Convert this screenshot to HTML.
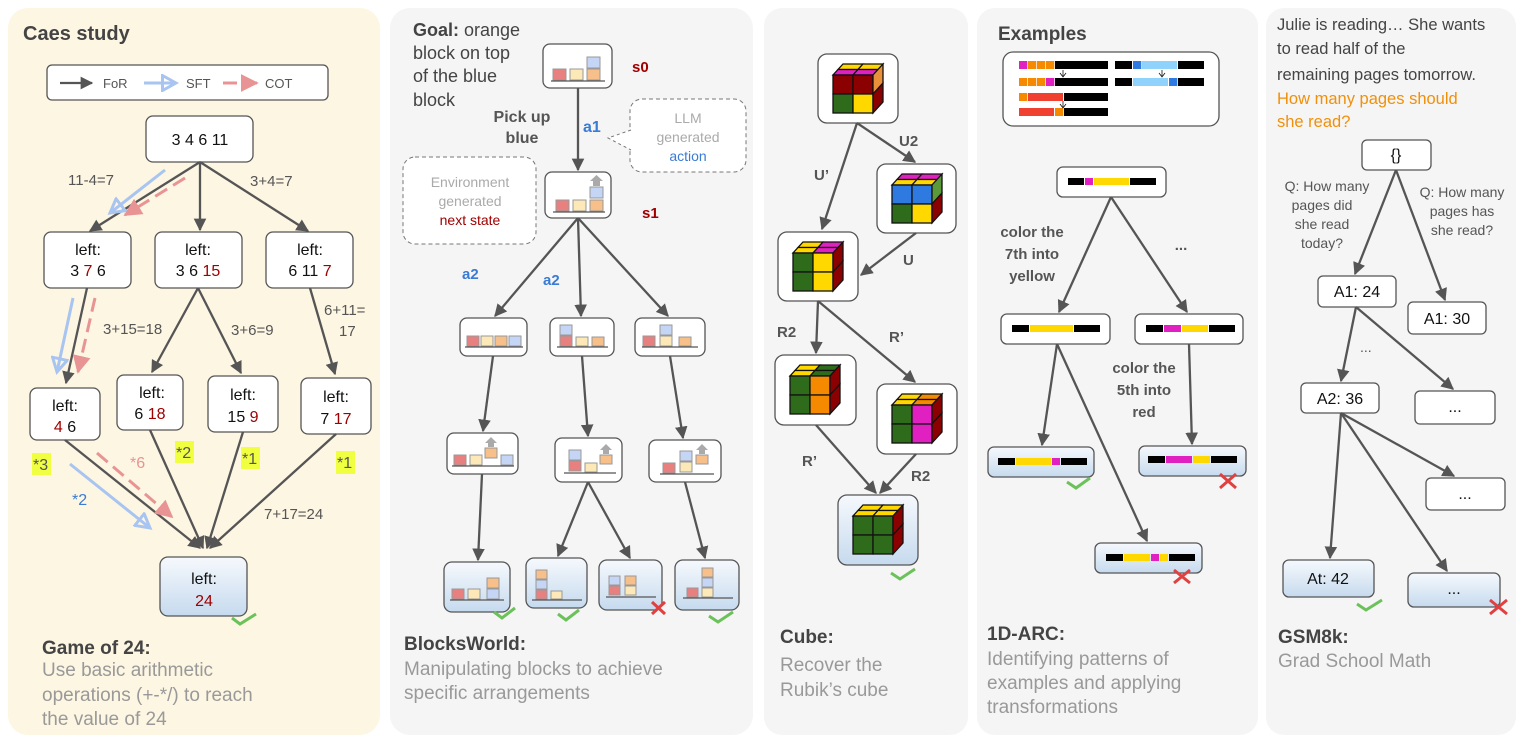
<!DOCTYPE html>
<html><head><meta charset="utf-8"><style>
html,body{margin:0;padding:0;background:#fff}
svg{display:block}
text{font-family:"Liberation Sans",sans-serif}
</style></head><body>
<svg width="1522" height="742" viewBox="0 0 1522 742" xmlns="http://www.w3.org/2000/svg">
<defs>
<marker id="ah" viewBox="0 0 10 10" refX="9" refY="5" markerWidth="5.5" markerHeight="5.5" orient="auto"><path d="M0,0 L10,5 L0,10 z" fill="#555"/></marker>
<marker id="ab" viewBox="0 0 12 12" refX="10" refY="6" markerWidth="6" markerHeight="6" orient="auto"><path d="M1,1 L10,6 L1,11 z" fill="none" stroke="#a8c4f0" stroke-width="2"/></marker>
<marker id="ar" viewBox="0 0 10 10" refX="9" refY="5" markerWidth="6" markerHeight="6" orient="auto"><path d="M0,0 L10,5 L0,10 z" fill="#e89494"/></marker>
<linearGradient id="gr" x1="0" y1="0" x2="0" y2="1"><stop offset="0" stop-color="#f6f9fd"/><stop offset="1" stop-color="#c6daee"/></linearGradient>
</defs>
<style>
.bx{fill:#fff;stroke:#555;stroke-width:1.3}
.gx{fill:url(#gr);stroke:#555;stroke-width:1.3}
.ln{stroke:#555;stroke-width:2.3;fill:none;marker-end:url(#ah)}
.bl{stroke:#a8c4f0;stroke-width:3;fill:none;marker-end:url(#ab)}
.rd{stroke:#e89494;stroke-width:3;fill:none;stroke-dasharray:14 7;marker-end:url(#ar)}
.t{font-size:15px;fill:#555}
.n{font-size:16px;fill:#111}
.red{fill:#a00000}
.r{fill:#e88080;stroke:#999;stroke-width:1}
.y{fill:#fde8b8;stroke:#999;stroke-width:1}
.o{fill:#f7c08a;stroke:#999;stroke-width:1}
.b{fill:#c5d5f5;stroke:#999;stroke-width:1}
.base{stroke:#555;stroke-width:1.3}
.ok{stroke:#6cc25a;stroke-width:3;fill:none}
.no{stroke:#e04040;stroke-width:3;fill:none}
.hd{font-size:19px;font-weight:bold;fill:#444}
.ds{font-size:19px;fill:#999}
.K{fill:#000}.M{fill:#e020c0}.Y{fill:#ffd800}.O{fill:#f58a00}.R{fill:#f04030}.B{fill:#2f7ae0}.L{fill:#8fd2fb}
.G{fill:#2e6b1a}.D{fill:#8b0000}
.cs rect,.cs polygon{stroke:#111;stroke-width:1.3}
</style>

<!-- panels -->
<rect x="8" y="8" width="372" height="727" rx="20" fill="#fdf6e3"/>
<rect x="390" y="8" width="363" height="727" rx="20" fill="#f5f5f5"/>
<rect x="764" y="8" width="204" height="727" rx="18" fill="#f5f5f5"/>
<rect x="977" y="8" width="281" height="727" rx="18" fill="#f5f5f5"/>
<rect x="1266" y="8" width="250" height="727" rx="18" fill="#f5f5f5"/>

<!-- ========== Panel 1 ========== -->
<text x="23" y="40" font-size="20" font-weight="bold" fill="#444">Caes study</text>
<rect x="47" y="65" width="281" height="35" rx="5" fill="#fff" stroke="#555" stroke-width="1.3"/>
<line x1="60" y1="83" x2="92" y2="83" class="ln"/>
<text x="103" y="88" font-size="13" fill="#555">FoR</text>
<line x1="144" y1="83" x2="176" y2="83" class="bl" stroke-width="2"/>
<text x="186" y="88" font-size="13" fill="#555">SFT</text>
<line x1="223" y1="83" x2="257" y2="83" class="rd" stroke-width="2" stroke-dasharray="8 6"/>
<text x="265" y="88" font-size="13" fill="#555">COT</text>

<rect x="146" y="116" width="107" height="46" rx="7" class="bx"/>
<text x="200" y="145" text-anchor="middle" class="n">3 4 6 11</text>

<line x1="200" y1="162" x2="90" y2="231" class="ln"/>
<line x1="200" y1="162" x2="200" y2="230" class="ln"/>
<line x1="200" y1="162" x2="308" y2="231" class="ln"/>
<line x1="165" y1="170" x2="110" y2="213" class="bl"/>
<line x1="185" y1="178" x2="125" y2="215" class="rd"/>
<text x="68" y="185" class="t">11-4=7</text>
<text x="250" y="186" class="t">3+4=7</text>

<rect x="44" y="232" width="87" height="56" rx="7" class="bx"/>
<text x="88" y="255" text-anchor="middle" class="n">left:</text>
<text x="88" y="276" text-anchor="middle" class="n">3 <tspan class="red">7</tspan> 6</text>
<rect x="155" y="232" width="87" height="56" rx="7" class="bx"/>
<text x="198" y="255" text-anchor="middle" class="n">left:</text>
<text x="198" y="276" text-anchor="middle" class="n">3 6 <tspan class="red">15</tspan></text>
<rect x="266" y="232" width="87" height="56" rx="7" class="bx"/>
<text x="310" y="255" text-anchor="middle" class="n">left:</text>
<text x="310" y="276" text-anchor="middle" class="n">6 11 <tspan class="red">7</tspan></text>

<line x1="87" y1="288" x2="66" y2="383" class="ln"/>
<line x1="73" y1="298" x2="57" y2="372" class="bl"/>
<line x1="95" y1="298" x2="78" y2="372" class="rd"/>
<line x1="198" y1="288" x2="152" y2="372" class="ln"/>
<line x1="198" y1="288" x2="241" y2="373" class="ln"/>
<line x1="310" y1="288" x2="335" y2="374" class="ln"/>
<text x="103" y="334" class="t">3+15=18</text>
<text x="231" y="335" class="t">3+6=9</text>
<text x="324" y="315" class="t">6+11=</text>
<text x="339" y="336" class="t">17</text>

<rect x="30" y="388" width="70" height="52" rx="7" class="bx"/>
<text x="65" y="411" text-anchor="middle" class="n">left:</text>
<text x="65" y="432" text-anchor="middle" class="n"><tspan class="red">4</tspan> 6</text>
<rect x="117" y="375" width="66" height="55" rx="7" class="bx"/>
<text x="152" y="398" text-anchor="middle" class="n">left:</text>
<text x="150" y="419" text-anchor="middle" class="n">6 <tspan class="red">18</tspan></text>
<rect x="208" y="376" width="70" height="56" rx="7" class="bx"/>
<text x="243" y="400" text-anchor="middle" class="n">left:</text>
<text x="243" y="422" text-anchor="middle" class="n">15 <tspan class="red">9</tspan></text>
<rect x="301" y="378" width="70" height="56" rx="7" class="bx"/>
<text x="336" y="402" text-anchor="middle" class="n">left:</text>
<text x="336" y="424" text-anchor="middle" class="n">7 <tspan class="red">17</tspan></text>

<rect x="32" y="453" width="19" height="22" fill="#f0ff40"/><text x="33" y="470" font-size="16" fill="#555">*3</text>
<rect x="175" y="441" width="19" height="22" fill="#f0ff40"/><text x="176" y="458" font-size="16" fill="#555">*2</text>
<rect x="241" y="447" width="19" height="22" fill="#f0ff40"/><text x="242" y="464" font-size="16" fill="#555">*1</text>
<rect x="336" y="451" width="19" height="23" fill="#f0ff40"/><text x="337" y="468" font-size="16" fill="#555">*1</text>
<text x="130" y="468" font-size="16" fill="#e89494">*6</text>
<text x="72" y="505" font-size="16" fill="#3a7bd5">*2</text>
<text x="264" y="519" class="t">7+17=24</text>

<line x1="65" y1="440" x2="200" y2="548" class="ln"/>
<line x1="150" y1="430" x2="203" y2="548" class="ln"/>
<line x1="243" y1="432" x2="207" y2="548" class="ln"/>
<line x1="336" y1="434" x2="210" y2="548" class="ln"/>
<line x1="70" y1="464" x2="150" y2="528" class="bl"/>
<line x1="97" y1="453" x2="172" y2="517" class="rd"/>

<rect x="160" y="557" width="87" height="59" rx="8" class="gx"/>
<text x="204" y="584" text-anchor="middle" class="n">left:</text>
<text x="204" y="606" text-anchor="middle" class="n red">24</text>
<polyline points="232,618 240,624 256,614" class="ok"/>

<text x="42" y="654" class="hd">Game of 24:</text>
<text x="42" y="676" class="ds">Use basic arithmetic</text>
<text x="42" y="701" class="ds">operations (+-*/) to reach</text>
<text x="42" y="725" class="ds">the value of 24</text>

<!-- ========== Panel 2 ========== -->
<text x="413" y="36" font-size="18" fill="#444"><tspan font-weight="bold">Goal:</tspan> orange</text>
<text x="413" y="59" font-size="18" fill="#444">block on top</text>
<text x="413" y="82" font-size="18" fill="#444">of the blue</text>
<text x="413" y="106" font-size="18" fill="#444">block</text>

<rect x="543" y="44" width="69" height="44" rx="7" class="bx"/>
<rect x="553" y="69" width="13" height="11" class="r"/><rect x="570" y="69" width="13" height="11" class="y"/><rect x="587" y="69" width="13" height="11" class="o"/><rect x="587" y="57" width="13" height="11" class="b"/>
<line x1="551" y1="81" x2="605" y2="81" class="base"/>
<text x="632" y="72" font-size="15" font-weight="bold" fill="#a00000">s0</text>
<text x="522" y="122" text-anchor="middle" font-size="16" font-weight="bold" fill="#555">Pick up</text>
<text x="522" y="143" text-anchor="middle" font-size="16" font-weight="bold" fill="#555">blue</text>
<text x="583" y="132" font-size="16" font-weight="bold" fill="#3a7bd5">a1</text>
<line x1="578" y1="88" x2="578" y2="170" class="ln"/>
<rect x="630" y="99" width="116" height="73" rx="12" fill="#fff" stroke="#777" stroke-dasharray="4 3"/>
<path d="M631,130 L608,138 L631,150" fill="#fff" stroke="#777" stroke-dasharray="3 3"/>
<text x="688" y="123" text-anchor="middle" font-size="14" fill="#aaa">LLM</text>
<text x="688" y="142" text-anchor="middle" font-size="14" fill="#aaa">generated</text>
<text x="688" y="161" text-anchor="middle" font-size="14" fill="#3a7bd5">action</text>

<rect x="545" y="172" width="66" height="46" rx="7" class="bx"/>
<rect x="556" y="200" width="13" height="11" class="r"/><rect x="573" y="200" width="13" height="11" class="y"/><rect x="590" y="200" width="13" height="11" class="o"/><rect x="590" y="187" width="13" height="11" class="b"/>
<path d="M593,186 L593,181 L590,181 L596.5,175 L603,181 L600,181 L600,186 z" fill="#aaa"/>
<line x1="553" y1="212" x2="605" y2="212" class="base"/>
<text x="642" y="218" font-size="15" font-weight="bold" fill="#a00000">s1</text>
<rect x="403" y="157" width="133" height="87" rx="12" fill="#fff" stroke="#777" stroke-dasharray="4 3"/>
<text x="470" y="187" text-anchor="middle" font-size="14" fill="#aaa">Environment</text>
<text x="470" y="206" text-anchor="middle" font-size="14" fill="#aaa">generated</text>
<text x="470" y="225" text-anchor="middle" font-size="14" fill="#a00000">next state</text>
<text x="462" y="279" font-size="15" font-weight="bold" fill="#3a7bd5">a2</text>
<text x="543" y="285" font-size="15" font-weight="bold" fill="#3a7bd5">a2</text>

<line x1="578" y1="218" x2="495" y2="316" class="ln"/>
<line x1="578" y1="218" x2="581" y2="316" class="ln"/>
<line x1="578" y1="218" x2="668" y2="316" class="ln"/>

<rect x="460" y="318" width="67" height="38" rx="7" class="bx"/>
<rect x="467" y="336" width="12" height="10" class="r"/><rect x="481" y="336" width="12" height="10" class="y"/><rect x="495" y="336" width="12" height="10" class="o"/><rect x="509" y="336" width="12" height="10" class="b"/>
<line x1="465" y1="347" x2="523" y2="347" class="base"/>
<rect x="550" y="318" width="64" height="38" rx="7" class="bx"/>
<rect x="560" y="336" width="12" height="10" class="r"/><rect x="560" y="325" width="12" height="10" class="b"/><rect x="576" y="337" width="12" height="9" class="y"/><rect x="592" y="337" width="12" height="9" class="o"/>
<line x1="557" y1="347" x2="608" y2="347" class="base"/>
<rect x="635" y="318" width="70" height="38" rx="7" class="bx"/>
<rect x="643" y="336" width="12" height="10" class="r"/><rect x="660" y="336" width="12" height="10" class="y"/><rect x="660" y="325" width="12" height="10" class="b"/><rect x="679" y="337" width="12" height="9" class="o"/>
<line x1="642" y1="347" x2="698" y2="347" class="base"/>

<line x1="493" y1="356" x2="483" y2="431" class="ln"/>
<line x1="582" y1="356" x2="588" y2="436" class="ln"/>
<line x1="670" y1="356" x2="683" y2="438" class="ln"/>

<rect x="447" y="433" width="71" height="41" rx="7" class="bx"/>
<rect x="454" y="455" width="12" height="10" class="r"/><rect x="470" y="455" width="12" height="10" class="y"/><rect x="485" y="448" width="12" height="10" class="o"/><rect x="501" y="455" width="12" height="10" class="b"/>
<path d="M488,447 L488,443 L485,443 L491,437 L497,443 L494,443 L494,447 z" fill="#aaa"/>
<line x1="452" y1="466" x2="514" y2="466" class="base"/>
<rect x="555" y="438" width="67" height="44" rx="7" class="bx"/>
<rect x="569" y="461" width="12" height="10" class="r"/><rect x="569" y="450" width="12" height="10" class="b"/><rect x="585" y="463" width="12" height="9" class="y"/><rect x="600" y="455" width="12" height="9" class="o"/>
<path d="M603,454 L603,450 L600,450 L606,444 L612,450 L609,450 L609,454 z" fill="#aaa"/>
<line x1="564" y1="473" x2="616" y2="473" class="base"/>
<rect x="649" y="440" width="72" height="42" rx="7" class="bx"/>
<rect x="663" y="463" width="12" height="10" class="r"/><rect x="680" y="462" width="12" height="10" class="y"/><rect x="680" y="451" width="12" height="10" class="b"/><rect x="696" y="455" width="12" height="9" class="o"/>
<path d="M699,454 L699,450 L696,450 L702,444 L708,450 L705,450 L705,454 z" fill="#aaa"/>
<line x1="660" y1="474" x2="714" y2="474" class="base"/>

<line x1="482" y1="474" x2="478" y2="560" class="ln"/>
<line x1="588" y1="482" x2="558" y2="556" class="ln"/>
<line x1="588" y1="482" x2="630" y2="558" class="ln"/>
<line x1="685" y1="482" x2="705" y2="558" class="ln"/>

<rect x="444" y="562" width="66" height="50" rx="8" class="gx"/>
<rect x="452" y="589" width="12" height="10" class="r"/><rect x="468" y="589" width="12" height="10" class="y"/><rect x="487" y="589" width="12" height="10" class="b"/><rect x="487" y="578" width="12" height="10" class="o"/>
<line x1="450" y1="600" x2="504" y2="600" class="base"/>
<polyline points="494,612 502,618 515,608" class="ok"/>
<rect x="526" y="558" width="61" height="50" rx="8" class="gx"/>
<rect x="536" y="590" width="11" height="9" class="r"/><rect x="536" y="580" width="11" height="9" class="b"/><rect x="536" y="570" width="11" height="9" class="o"/><rect x="551" y="591" width="11" height="8" class="y"/>
<line x1="532" y1="600" x2="582" y2="600" class="base"/>
<polyline points="558,614 566,620 579,610" class="ok"/>
<rect x="599" y="560" width="63" height="50" rx="8" class="gx"/>
<rect x="609" y="586" width="11" height="9" class="r"/><rect x="609" y="576" width="11" height="9" class="b"/><rect x="625" y="586" width="11" height="9" class="y"/><rect x="625" y="576" width="11" height="9" class="o"/>
<line x1="606" y1="597" x2="656" y2="597" class="base"/>
<path d="M652,602 L665,614 M665,602 L652,614" class="no"/>
<rect x="675" y="560" width="64" height="50" rx="8" class="gx"/>
<rect x="687" y="588" width="11" height="9" class="r"/><rect x="702" y="588" width="11" height="9" class="y"/><rect x="702" y="578" width="11" height="9" class="b"/><rect x="702" y="568" width="11" height="9" class="o"/>
<line x1="683" y1="598" x2="733" y2="598" class="base"/>
<polyline points="709,616 718,622 733,612" class="ok"/>

<text x="404" y="650" class="hd">BlocksWorld:</text>
<text x="404" y="675" class="ds">Manipulating blocks to achieve</text>
<text x="404" y="699" class="ds">specific arrangements</text>

<!-- ========== Panel 3 Cube ========== -->
<rect x="818" y="54" width="80" height="69" rx="9" class="bx"/>
<rect x="877" y="164" width="79" height="69" rx="9" class="bx"/>
<rect x="778" y="232" width="80" height="69" rx="9" class="bx"/>
<rect x="775" y="355" width="81" height="70" rx="9" class="bx"/>
<rect x="877" y="384" width="80" height="70" rx="9" class="bx"/>
<rect x="838" y="495" width="80" height="70" rx="9" class="gx"/>

<g class="cs" transform="translate(833,64)">
<polygon points="10,0 30,0 25,5.5 5,5.5" class="Y"/><polygon points="30,0 50,0 45,5.5 25,5.5" class="Y"/>
<polygon points="5,5.5 25,5.5 20,11 0,11" class="M"/><polygon points="25,5.5 45,5.5 40,11 20,11" class="M"/>
<rect x="0" y="11" width="20" height="19" class="D"/><rect x="20" y="11" width="20" height="19" class="D"/>
<rect x="0" y="30" width="20" height="19" class="G"/><rect x="20" y="30" width="20" height="19" class="Y"/>
<polygon points="40,11 50,0 50,19 40,30" fill="#e8903a"/><polygon points="40,30 50,19 50,38 40,49" class="D"/>
</g>
<g class="cs" transform="translate(892,174)">
<polygon points="10,0 30,0 25,5.5 5,5.5" class="M"/><polygon points="30,0 50,0 45,5.5 25,5.5" class="M"/>
<polygon points="5,5.5 25,5.5 20,11 0,11" class="Y"/><polygon points="25,5.5 45,5.5 40,11 20,11" class="Y"/>
<rect x="0" y="11" width="20" height="19" class="B"/><rect x="20" y="11" width="20" height="19" class="B"/>
<rect x="0" y="30" width="20" height="19" class="G"/><rect x="20" y="30" width="20" height="19" class="Y"/>
<polygon points="40,11 50,0 50,19 40,30" fill="#5a9a3a"/><polygon points="40,30 50,19 50,38 40,49" class="D"/>
</g>
<g class="cs" transform="translate(793,242)">
<polygon points="10,0 30,0 25,5.5 5,5.5" class="Y"/><polygon points="30,0 50,0 45,5.5 25,5.5" class="M"/>
<polygon points="5,5.5 25,5.5 20,11 0,11" class="Y"/><polygon points="25,5.5 45,5.5 40,11 20,11" class="M"/>
<rect x="0" y="11" width="20" height="19" class="G"/><rect x="20" y="11" width="20" height="19" class="Y"/>
<rect x="0" y="30" width="20" height="19" class="G"/><rect x="20" y="30" width="20" height="19" class="Y"/>
<polygon points="40,11 50,0 50,19 40,30" class="D"/><polygon points="40,30 50,19 50,38 40,49" class="D"/>
</g>
<g class="cs" transform="translate(790,365)">
<polygon points="10,0 30,0 25,5.5 5,5.5" class="Y"/><polygon points="30,0 50,0 45,5.5 25,5.5" class="G"/>
<polygon points="5,5.5 25,5.5 20,11 0,11" class="Y"/><polygon points="25,5.5 45,5.5 40,11 20,11" class="G"/>
<rect x="0" y="11" width="20" height="19" class="G"/><rect x="20" y="11" width="20" height="19" class="O"/>
<rect x="0" y="30" width="20" height="19" class="G"/><rect x="20" y="30" width="20" height="19" class="O"/>
<polygon points="40,11 50,0 50,19 40,30" class="D"/><polygon points="40,30 50,19 50,38 40,49" class="D"/>
</g>
<g class="cs" transform="translate(892,394)">
<polygon points="10,0 30,0 25,5.5 5,5.5" class="Y"/><polygon points="30,0 50,0 45,5.5 25,5.5" class="O"/>
<polygon points="5,5.5 25,5.5 20,11 0,11" class="Y"/><polygon points="25,5.5 45,5.5 40,11 20,11" class="O"/>
<rect x="0" y="11" width="20" height="19" class="G"/><rect x="20" y="11" width="20" height="19" class="M"/>
<rect x="0" y="30" width="20" height="19" class="G"/><rect x="20" y="30" width="20" height="19" class="M"/>
<polygon points="40,11 50,0 50,19 40,30" class="D"/><polygon points="40,30 50,19 50,38 40,49" class="D"/>
</g>
<g class="cs" transform="translate(853,505)">
<polygon points="10,0 30,0 25,5.5 5,5.5" class="Y"/><polygon points="30,0 50,0 45,5.5 25,5.5" class="Y"/>
<polygon points="5,5.5 25,5.5 20,11 0,11" class="Y"/><polygon points="25,5.5 45,5.5 40,11 20,11" class="Y"/>
<rect x="0" y="11" width="20" height="19" class="G"/><rect x="20" y="11" width="20" height="19" class="G"/>
<rect x="0" y="30" width="20" height="19" class="G"/><rect x="20" y="30" width="20" height="19" class="G"/>
<polygon points="40,11 50,0 50,19 40,30" class="D"/><polygon points="40,30 50,19 50,38 40,49" class="D"/>
</g>
<polyline points="891,573 900,579 915,569" class="ok"/>

<line x1="857" y1="123" x2="822" y2="229" class="ln"/>
<line x1="857" y1="123" x2="915" y2="162" class="ln"/>
<line x1="916" y1="233" x2="861" y2="275" class="ln"/>
<line x1="818" y1="301" x2="816" y2="353" class="ln"/>
<line x1="818" y1="301" x2="915" y2="382" class="ln"/>
<line x1="816" y1="425" x2="876" y2="493" class="ln"/>
<line x1="916" y1="454" x2="880" y2="493" class="ln"/>
<text x="899" y="146" font-size="15" font-weight="bold" fill="#555">U2</text>
<text x="814" y="180" font-size="15" font-weight="bold" fill="#555">U’</text>
<text x="903" y="265" font-size="15" font-weight="bold" fill="#555">U</text>
<text x="777" y="337" font-size="15" font-weight="bold" fill="#555">R2</text>
<text x="889" y="342" font-size="15" font-weight="bold" fill="#555">R’</text>
<text x="802" y="466" font-size="15" font-weight="bold" fill="#555">R’</text>
<text x="911" y="481" font-size="15" font-weight="bold" fill="#555">R2</text>

<text x="780" y="643" class="hd">Cube:</text>
<text x="780" y="671" class="ds">Recover the</text>
<text x="780" y="696" class="ds">Rubik’s cube</text>

<!-- ========== Panel 4 1D-ARC ========== -->
<text x="998" y="40" font-size="19" font-weight="bold" fill="#444">Examples</text>
<rect x="1003" y="52" width="216" height="74" rx="10" class="bx"/>
<g transform="translate(1019,61)">
<rect x="0" width="8.3" height="8" class="M"/><rect x="9" width="8.3" height="8" class="O"/><rect x="18" width="8.3" height="8" class="O"/><rect x="27" width="8.3" height="8" class="O"/><rect x="36" width="53" height="8" class="K"/>
</g>
<g transform="translate(1019,78)">
<rect x="0" width="8.3" height="8" class="O"/><rect x="9" width="8.3" height="8" class="O"/><rect x="18" width="8.3" height="8" class="O"/><rect x="27" width="8.3" height="8" class="M"/><rect x="36" width="53" height="8" class="K"/>
</g>
<g transform="translate(1019,93)">
<rect x="0" width="8.3" height="8" class="O"/><rect x="9" width="35" height="8" class="R"/><rect x="45" width="44" height="8" class="K"/>
</g>
<g transform="translate(1019,108)">
<rect x="0" width="35" height="8" class="R"/><rect x="36" width="8.3" height="8" class="O"/><rect x="45" width="44" height="8" class="K"/>
</g>
<g transform="translate(1115,61)">
<rect x="0" width="17" height="8" class="K"/><rect x="18" width="8.3" height="8" class="B"/><rect x="27" width="35" height="8" class="L"/><rect x="63" width="26" height="8" class="K"/>
</g>
<g transform="translate(1115,78)">
<rect x="0" width="17" height="8" class="K"/><rect x="18" width="35" height="8" class="L"/><rect x="54" width="8.3" height="8" class="B"/><rect x="63" width="26" height="8" class="K"/>
</g>
<path d="M1063,70 V76 M1060,73 L1063,77 L1066,73 M1162,70 V76 M1159,73 L1162,77 L1165,73 M1063,101 V107 M1060,104 L1063,108 L1066,104" stroke="#111" stroke-width="0.8" fill="none"/>

<rect x="1057" y="167" width="109" height="30" rx="6" class="bx"/>
<g transform="translate(1068,178)"><rect width="16" height="7" class="K"/><rect x="17" width="8" height="7" class="M"/><rect x="26" width="35" height="7" class="Y"/><rect x="62" width="26" height="7" class="K"/></g>
<rect x="1001" y="314" width="109" height="30" rx="6" class="bx"/>
<g transform="translate(1012,325)"><rect width="17" height="7" class="K"/><rect x="18" width="43" height="7" class="Y"/><rect x="62" width="26" height="7" class="K"/></g>
<rect x="1135" y="314" width="108" height="30" rx="6" class="bx"/>
<g transform="translate(1146,325)"><rect width="17" height="7" class="K"/><rect x="18" width="17" height="7" class="M"/><rect x="36" width="26" height="7" class="Y"/><rect x="63" width="26" height="7" class="K"/></g>
<rect x="988" y="447" width="106" height="30" rx="6" class="gx"/>
<g transform="translate(998,458)"><rect width="17" height="7" class="K"/><rect x="18" width="35" height="7" class="Y"/><rect x="54" width="8" height="7" class="M"/><rect x="63" width="26" height="7" class="K"/></g>
<polyline points="1067,482 1076,488 1090,478" class="ok"/>
<rect x="1139" y="446" width="107" height="30" rx="6" class="gx"/>
<g transform="translate(1148,456)"><rect width="17" height="7" class="K"/><rect x="18" width="26" height="7" class="M"/><rect x="45" width="17" height="7" class="Y"/><rect x="63" width="26" height="7" class="K"/></g>
<path d="M1220,474 L1236,488 M1236,474 L1220,488" class="no"/>
<rect x="1095" y="543" width="107" height="30" rx="6" class="gx"/>
<g transform="translate(1106,554)"><rect width="17" height="7" class="K"/><rect x="18" width="26" height="7" class="Y"/><rect x="45" width="8" height="7" class="M"/><rect x="54" width="8" height="7" class="Y"/><rect x="63" width="26" height="7" class="K"/></g>
<path d="M1174,570 L1190,583 M1190,570 L1174,583" class="no"/>

<line x1="1111" y1="197" x2="1059" y2="312" class="ln"/>
<line x1="1111" y1="197" x2="1187" y2="312" class="ln"/>
<line x1="1057" y1="344" x2="1042" y2="445" class="ln"/>
<line x1="1057" y1="344" x2="1147" y2="541" class="ln"/>
<line x1="1189" y1="344" x2="1192" y2="444" class="ln"/>
<g font-size="15" font-weight="bold" fill="#555" text-anchor="middle">
<text x="1032" y="237">color the</text><text x="1032" y="259">7th into</text><text x="1032" y="281">yellow</text>
<text x="1144" y="373">color the</text><text x="1144" y="395">5th into</text><text x="1144" y="417">red</text>
<text x="1181" y="250">...</text>
</g>
<text x="987" y="640" class="hd">1D-ARC:</text>
<text x="987" y="665" class="ds">Identifying patterns of</text>
<text x="987" y="689" class="ds">examples and applying</text>
<text x="987" y="713" class="ds">transformations</text>

<!-- ========== Panel 5 GSM8k ========== -->
<g font-size="16.5" fill="#444">
<text x="1277" y="30">Julie is reading… She wants</text>
<text x="1277" y="54">to read half of the</text>
<text x="1277" y="80">remaining pages tomorrow.</text>
<text x="1277" y="104" fill="#f0900a">How many pages should</text>
<text x="1277" y="127" fill="#f0900a">she read?</text>
</g>
<rect x="1362" y="140" width="69" height="30" rx="5" class="bx"/>
<text x="1396" y="160" text-anchor="middle" class="n" font-size="15">{}</text>
<g font-size="14" fill="#555" text-anchor="middle">
<text x="1327" y="191">Q: How many</text><text x="1322" y="210">pages did</text><text x="1322" y="229">she read</text><text x="1322" y="248">today?</text>
<text x="1462" y="197">Q: How many</text><text x="1462" y="216">pages has</text><text x="1462" y="235">she read?</text>
</g>
<line x1="1396" y1="170" x2="1355" y2="274" class="ln"/>
<line x1="1396" y1="170" x2="1445" y2="300" class="ln"/>
<rect x="1318" y="276" width="78" height="31" rx="5" class="bx"/>
<text x="1357" y="297" text-anchor="middle" class="n" font-size="15">A1: 24</text>
<rect x="1408" y="302" width="78" height="32" rx="5" class="bx"/>
<text x="1447" y="324" text-anchor="middle" class="n" font-size="15">A1: 30</text>
<line x1="1356" y1="307" x2="1341" y2="381" class="ln"/>
<line x1="1356" y1="307" x2="1453" y2="389" class="ln"/>
<text x="1360" y="352" font-size="14" fill="#555">...</text>
<rect x="1301" y="383" width="78" height="30" rx="5" class="bx"/>
<text x="1340" y="404" text-anchor="middle" class="n" font-size="15">A2: 36</text>
<rect x="1415" y="391" width="80" height="33" rx="5" class="bx"/>
<text x="1455" y="412" text-anchor="middle" class="n" font-size="14">...</text>
<line x1="1341" y1="413" x2="1454" y2="476" class="ln"/>
<line x1="1341" y1="413" x2="1447" y2="571" class="ln"/>
<line x1="1341" y1="413" x2="1330" y2="558" class="ln"/>
<rect x="1426" y="478" width="79" height="32" rx="5" class="bx"/>
<text x="1465" y="499" text-anchor="middle" class="n" font-size="14">...</text>
<rect x="1283" y="560" width="91" height="37" rx="6" class="gx"/>
<text x="1328" y="584" text-anchor="middle" class="n" font-size="15">At: 42</text>
<polyline points="1357,604 1366,610 1382,600" class="ok"/>
<rect x="1408" y="573" width="92" height="34" rx="6" class="gx"/>
<text x="1454" y="594" text-anchor="middle" class="n" font-size="14">...</text>
<path d="M1490,600 L1507,614 M1507,600 L1490,614" class="no"/>
<text x="1278" y="643" class="hd">GSM8k:</text>
<text x="1278" y="667" class="ds">Grad School Math</text>
</svg>
</body></html>
